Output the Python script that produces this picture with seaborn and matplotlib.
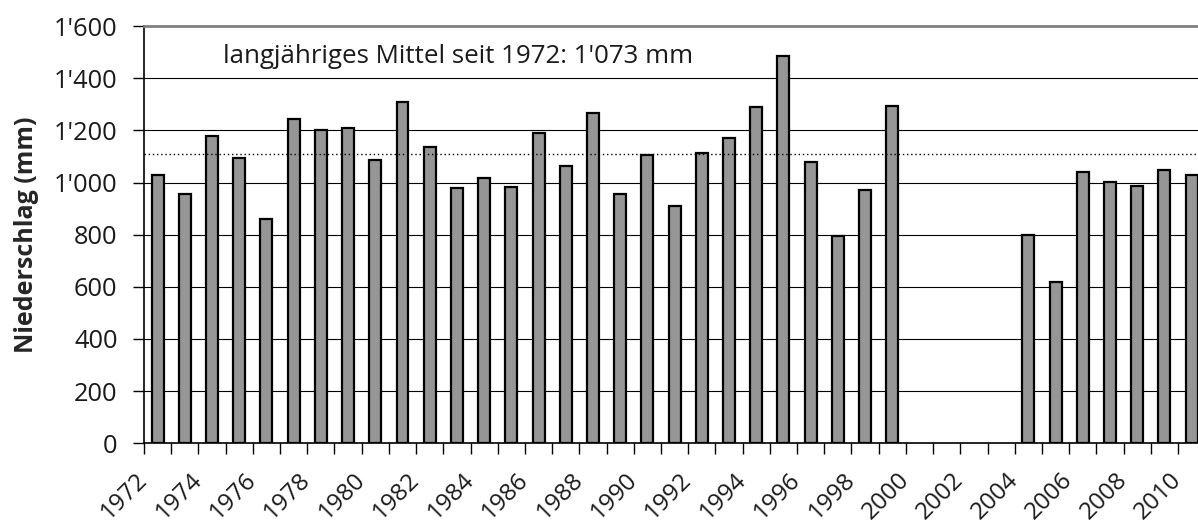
import numpy as np
import pandas as pd
import matplotlib
matplotlib.use("Agg")
import matplotlib.pyplot as plt
import seaborn as sns

# Jahresniederschlag (mm), 2000-2003 fehlen
years = list(range(1972, 2011))
precip_mm = [1029, 957, 1178, 1095, 860, 1242, 1203, 1208, 1086, 1309,
             1136, 978, 1016, 981, 1191, 1064, 1266, 956, 1104, 910,
             1112, 1172, 1288, 1485, 1077, 795, 970, 1293,
             None, None, None, None,
             799, 617, 1039, 1002, 987, 1048, 1028]

mean_level = 1108
mean_text = "langjähriges Mittel seit 1972: 1'073 mm"

y_ticks = [0, 200, 400, 600, 800, 1000, 1200, 1400, 1600]
y_tick_labels = ["0", "200", "400", "600", "800", "1'000", "1'200", "1'400", "1'600"]
x_tick_labels = [str(y) if y % 2 == 0 else "" for y in years]

df = pd.DataFrame({"Jahr": [str(y) for y in years],
                   "Niederschlag": pd.array(precip_mm, dtype="Float64").astype(float)})

sns.set_theme(style="white")
plt.rcParams["font.family"] = ["Open Sans", "DejaVu Sans"]

fig = plt.figure(figsize=(11.98, 5.27), dpi=100)
ax = fig.add_axes([0.1202, 0.1588, 0.8858, 0.7918])

sns.barplot(data=df, x="Jahr", y="Niederschlag", order=df["Jahr"],
            color="#969696", saturation=1, edgecolor="black", linewidth=1.6,
            width=0.44, errorbar=None, ax=ax, zorder=2)

ax.set_xlim(-0.5, len(years) - 0.5)
ax.set_ylim(0, 1600)

# horizontal grid behind the bars
for v in y_ticks[1:-1]:
    ax.axhline(v, color="black", lw=0.8, zorder=0.5)

# long-term mean, dotted
ax.axhline(mean_level, color="black", lw=1.0, ls=(0, (1, 2)), zorder=3)
ax.text(2.4, 1457, mean_text, fontsize=18.6, va="baseline", color="#1a1a1a")

ax.set_yticks(y_ticks, y_tick_labels, fontsize=18.3, color="#1a1a1a")
ax.set_xticks(np.arange(len(years)) - 0.5, x_tick_labels, fontsize=17.5, color="#1a1a1a")
for lab in ax.get_xticklabels():
    lab.set_rotation(45)
    lab.set_ha("right")
    lab.set_va("center")
    lab.set_rotation_mode("anchor")

ax.tick_params(axis="both", direction="out", length=8, width=1, color="black",
               bottom=True, left=True)
ax.tick_params(axis="y", pad=11)
ax.tick_params(axis="x", pad=16)

ax.set_xlabel("")
ax.set_ylabel("Niederschlag (mm)", fontsize=18, fontweight="bold", labelpad=11)

for side in ["left", "bottom"]:
    ax.spines[side].set_color("black")
    ax.spines[side].set_linewidth(1.2)
ax.spines["right"].set_visible(False)
ax.spines["top"].set_color("#808080")
ax.spines["top"].set_linewidth(2)

fig.savefig("out.png", dpi=100)
